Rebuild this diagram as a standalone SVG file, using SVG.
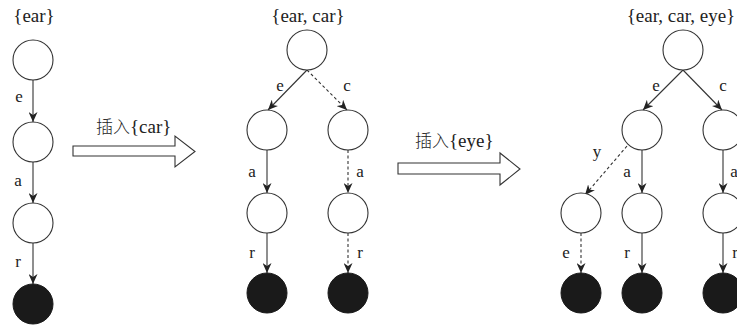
<svg xmlns="http://www.w3.org/2000/svg" width="737" height="325" viewBox="0 0 737 325">
<style>
.n{fill:#fff;stroke:#333;stroke-width:1.1}
.b{fill:#1a1a1a;stroke:#1a1a1a;stroke-width:1}
.e{stroke:#333;stroke-width:1.1;fill:none;marker-end:url(#ah)}
.d{stroke-dasharray:3,2.5}
.t{font-family:"Liberation Serif","Noto Sans CJK SC",serif;font-size:17px;fill:#222}
.h{font-family:"Liberation Serif","Noto Sans CJK SC",serif;font-size:19px;fill:#222;text-anchor:middle}
.m{text-anchor:middle}
.bl{fill:#fff;stroke:#333;stroke-width:1.1}
.c{font-family:"Liberation Serif",serif;font-size:19px;fill:#222}
.cj{font-family:"Noto Sans CJK SC",sans-serif;font-size:17px;font-weight:300}
</style>
<defs>
<marker id="ah" markerUnits="userSpaceOnUse" markerWidth="11" markerHeight="9" refX="10" refY="4.5" orient="auto">
<path d="M0,0 L10,4.5 L0,9 L3,4.5 z" fill="#222"/>
</marker>
</defs>
<rect width="737" height="325" fill="#fff"/>

<g id="labels-top">
<text class="h" x="34" y="22">{ear}</text>
<text class="h" x="308" y="22">{ear, car}</text>
<text class="h" x="681" y="22">{ear, car, eye}</text>
</g>

<g id="connectors">
<line class="e" x1="33" y1="80" x2="33" y2="122"/>
<line class="e" x1="33" y1="162" x2="33" y2="203"/>
<line class="e" x1="33" y1="243" x2="33" y2="284"/>
<line class="e" x1="307" y1="70" x2="268" y2="110"/>
<line class="e d" x1="307" y1="70" x2="347" y2="110"/>
<line class="e" x1="267" y1="150" x2="267" y2="193"/>
<line class="e d" x1="348" y1="150" x2="348" y2="193"/>
<line class="e" x1="267" y1="233" x2="267" y2="273"/>
<line class="e d" x1="348" y1="233" x2="348" y2="273"/>
<line class="e" x1="683" y1="70" x2="643" y2="110"/>
<line class="e" x1="683" y1="70" x2="722" y2="110"/>
<line class="e d" x1="627" y1="146" x2="585" y2="195"/>
<line class="e" x1="642" y1="150" x2="642" y2="193"/>
<line class="e" x1="723" y1="150" x2="723" y2="193"/>
<line class="e d" x1="581" y1="233" x2="581" y2="273"/>
<line class="e" x1="642" y1="233" x2="642" y2="273"/>
<line class="e" x1="723" y1="233" x2="723" y2="273"/>
</g>

<g id="edge-labels">
<text class="t m" x="19" y="102">e</text>
<text class="t m" x="18" y="186">a</text>
<text class="t m" x="18" y="267">r</text>
<text class="t m" x="280" y="91">e</text>
<text class="t m" x="347" y="91">c</text>
<text class="t m" x="252" y="177">a</text>
<text class="t m" x="360" y="177">a</text>
<text class="t m" x="252" y="258">r</text>
<text class="t m" x="360" y="258">r</text>
<text class="t m" x="656" y="91">e</text>
<text class="t m" x="723" y="91">c</text>
<text class="t m" x="597" y="157">y</text>
<text class="t m" x="627" y="177">a</text>
<text class="t m" x="734" y="177">a</text>
<text class="t m" x="566" y="258">e</text>
<text class="t m" x="627" y="258">r</text>
<text class="t m" x="735" y="258">r</text>
</g>

<g id="tree1">
<g id="t1n1"><circle class="n" cx="33" cy="60" r="20"/></g>
<g id="t1n2"><circle class="n" cx="33" cy="142" r="20"/></g>
<g id="t1n3"><circle class="n" cx="33" cy="223" r="20"/></g>
<g id="t1n4"><circle class="b" cx="33" cy="304" r="20"/></g>
</g>

<g id="arrow1">
<polygon class="bl" points="73,146 175,146 175,136 195,151.5 175,167 175,156 73,156"/>
<text class="c" x="96" y="133"><tspan class="cj">插入</tspan>{car}</text>
</g>

<g id="tree2">
<g id="t2root"><circle class="n" cx="307" cy="50" r="20"/></g>
<g id="t2e"><circle class="n" cx="267" cy="130" r="20"/></g>
<g id="t2c"><circle class="n" cx="348" cy="130" r="20"/></g>
<g id="t2ea"><circle class="n" cx="267" cy="213" r="20"/></g>
<g id="t2ca"><circle class="n" cx="348" cy="213" r="20"/></g>
<g id="t2ear"><circle class="b" cx="267" cy="293" r="20"/></g>
<g id="t2car"><circle class="b" cx="348" cy="293" r="20"/></g>
</g>

<g id="arrow2">
<polygon class="bl" points="398,163 500,163 500,153 520,169 500,185 500,174 398,174"/>
<text class="c" x="415" y="147"><tspan class="cj">插入</tspan>{eye}</text>
</g>

<g id="tree3">
<g id="t3root"><circle class="n" cx="683" cy="50" r="20"/></g>
<g id="t3e"><circle class="n" cx="642" cy="130" r="20"/></g>
<g id="t3c"><circle class="n" cx="723" cy="130" r="20"/></g>
<g id="t3ey"><circle class="n" cx="581" cy="213" r="20"/></g>
<g id="t3ea"><circle class="n" cx="642" cy="213" r="20"/></g>
<g id="t3ca"><circle class="n" cx="723" cy="213" r="20"/></g>
<g id="t3eye"><circle class="b" cx="581" cy="293" r="20"/></g>
<g id="t3ear"><circle class="b" cx="642" cy="293" r="20"/></g>
<g id="t3car"><circle class="b" cx="723" cy="293" r="20"/></g>
</g>
</svg>
